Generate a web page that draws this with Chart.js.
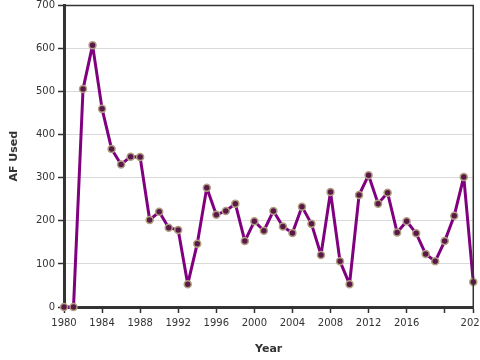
<!DOCTYPE html>
<html>
<head>
<meta charset="utf-8">
<script src="https://cdn.jsdelivr.net/npm/chart.js@4"></script>
<style>
  html, body { margin: 0; padding: 0; overflow: hidden; background: #fff; }
  #wrap { width: 490px; height: 360px; }
</style>
</head>
<body>
<div id="wrap"><canvas id="chart" width="490" height="360"></canvas></div>
<script>
const years = [
  1980, 1981, 1982, 1983, 1984, 1985, 1986, 1987, 1988, 1989,
  1990, 1991, 1992, 1993, 1994, 1995, 1996, 1997, 1998, 1999,
  2000, 2001, 2002, 2003, 2004, 2005, 2006, 2007, 2008, 2009,
  2010, 2011, 2012, 2013, 2014, 2015, 2016, 2017, 2018, 2019,
  2020, 2021, 2022, 2023
];
const afUsed = [
  0, 0, 506, 608, 460, 367, 331, 349, 348, 202,
  221, 184, 179, 53, 147, 277, 214, 223, 240, 153,
  199, 177, 223, 187, 172, 233, 193, 121, 267, 106,
  53, 260, 306, 240, 265, 173, 199, 171, 123, 106,
  153, 212, 302, 58
];
const xTicks = [1980, 1984, 1988, 1992, 1996, 2000, 2004, 2008, 2012, 2016, 2020, 2023];
const yTicks = [0, 100, 200, 300, 400, 500, 600, 700];

const tickFont = { family: 'DejaVu Sans', size: 10 };
const titleFont = { family: 'DejaVu Sans', size: 11, weight: 'bold' };

// thin frame on top and right of the plot
const frame = {
  id: 'frame',
  afterDraw(chart) {
    const { ctx, chartArea: a } = chart;
    ctx.save();
    ctx.strokeStyle = '#333';
    ctx.lineWidth = 1.5;
    ctx.beginPath();
    ctx.moveTo(a.left, a.top);
    ctx.lineTo(a.right, a.top);
    ctx.lineTo(a.right, a.bottom);
    ctx.stroke();
    ctx.restore();
  }
};

const ctx = document.getElementById('chart').getContext('2d');
new Chart(ctx, {
  type: 'line',
  data: {
    datasets: [{
      label: 'AF Used',
      data: years.map((y, i) => ({ x: y, y: afUsed[i] })),
      borderColor: '#800080',
      borderWidth: 3,
      borderJoinStyle: 'round',
      tension: 0,
      fill: false,
      pointRadius: 3.5,
      pointBackgroundColor: '#5a1848',
      pointBorderColor: '#b0a080',
      pointBorderWidth: 1.5,
      clip: false
    }]
  },
  options: {
    responsive: false,
    animation: false,
    layout: { padding: { top: 5, right: 12, left: 0, bottom: 0 } },
    plugins: {
      legend: { display: false },
      tooltip: { enabled: false }
    },
    scales: {
      x: {
        type: 'linear',
        min: 1980,
        max: 2023,
        afterBuildTicks: (scale) => { scale.ticks = xTicks.map(v => ({ value: v })); },
        afterFit: (scale) => { scale.height = 53; },
        ticks: {
          autoSkip: false,
          maxRotation: 0,
          color: '#333',
          font: tickFont,
          padding: 4,
          callback: (v) => v === 2020 ? '' : String(v)
        },
        grid: {
          drawOnChartArea: false,
          drawTicks: true,
          tickLength: 6,
          tickColor: '#333',
          tickWidth: 1.5
        },
        border: { color: '#333', width: 3 },
        title: {
          display: true,
          text: 'Year',
          color: '#333',
          font: titleFont,
          padding: { top: 12 }
        }
      },
      y: {
        min: 0,
        max: 700,
        afterBuildTicks: (scale) => { scale.ticks = yTicks.map(v => ({ value: v })); },
        afterFit: (scale) => { scale.width = 64; scale.paddingTop = 0; },
        ticks: {
          color: '#333',
          font: tickFont,
          padding: 3
        },
        grid: {
          color: '#d9d9d9',
          lineWidth: 1,
          drawTicks: true,
          tickLength: 6,
          tickColor: '#333',
          tickWidth: 1.5
        },
        border: { color: '#333', width: 3 },
        title: {
          display: true,
          text: 'AF Used',
          color: '#333',
          font: titleFont,
          padding: { top: 8, bottom: 10 }
        }
      }
    }
  },
  plugins: [frame]
});
</script>
</body>
</html>
